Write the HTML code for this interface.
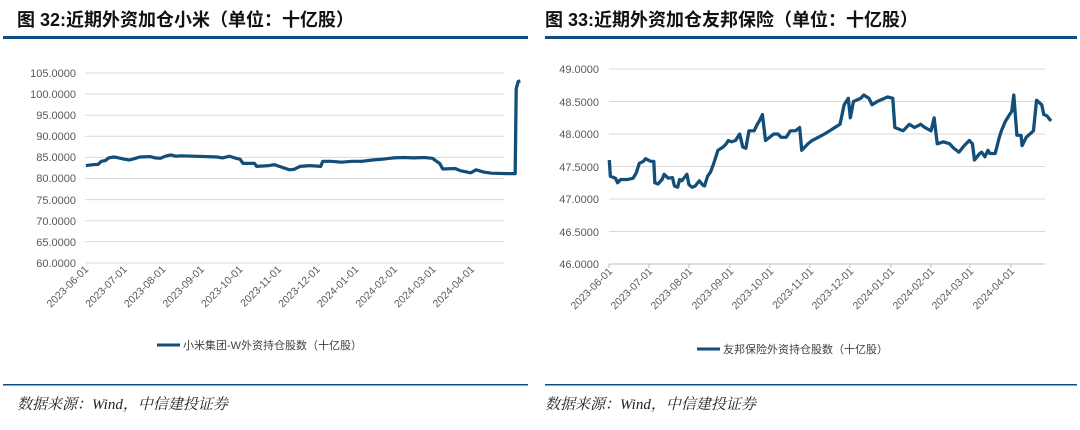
<!DOCTYPE html>
<html><head><meta charset="utf-8"><style>
body{margin:0;background:#fff;width:1080px;height:425px;overflow:hidden;font-family:"Liberation Sans","Noto Sans CJK SC",sans-serif}
</style></head><body>
<svg width="1080" height="425" xmlns="http://www.w3.org/2000/svg" font-family="Liberation Sans, Noto Sans CJK SC, sans-serif">
<text x="17" y="26" font-size="18" font-weight="bold" fill="#111">图 32:近期外资加仓小米（单位：十亿股）</text>
<text x="545" y="26" font-size="18" font-weight="bold" fill="#111">图 33:近期外资加仓友邦保险（单位：十亿股）</text>
<rect x="3" y="36" width="525" height="3" fill="#0f4c81"/>
<rect x="545" y="36" width="532" height="3" fill="#0f4c81"/>
<g stroke="#d9d9d9" stroke-width="1">
<line x1="85" x2="504" y1="73" y2="73"/><line x1="85" x2="504" y1="94.1" y2="94.1"/><line x1="85" x2="504" y1="115.2" y2="115.2"/><line x1="85" x2="504" y1="136.3" y2="136.3"/><line x1="85" x2="504" y1="157.4" y2="157.4"/><line x1="85" x2="504" y1="178.5" y2="178.5"/><line x1="85" x2="504" y1="199.6" y2="199.6"/><line x1="85" x2="504" y1="220.7" y2="220.7"/><line x1="85" x2="504" y1="241.8" y2="241.8"/><line x1="85" x2="504" y1="263" y2="263"/>
<line x1="609" x2="1045" y1="69" y2="69"/><line x1="609" x2="1045" y1="101.5" y2="101.5"/><line x1="609" x2="1045" y1="134" y2="134"/><line x1="609" x2="1045" y1="166.5" y2="166.5"/><line x1="609" x2="1045" y1="199" y2="199"/><line x1="609" x2="1045" y1="231.5" y2="231.5"/><line x1="609" x2="1045" y1="264" y2="264"/>
</g>
<g font-size="11" fill="#595959" text-anchor="end">
<text x="76" y="77">105.0000</text><text x="76" y="98">100.0000</text><text x="76" y="119">95.0000</text><text x="76" y="140">90.0000</text><text x="76" y="161">85.0000</text><text x="76" y="182">80.0000</text><text x="76" y="204">75.0000</text><text x="76" y="225">70.0000</text><text x="76" y="246">65.0000</text><text x="76" y="267">60.0000</text>
<text x="599" y="73">49.0000</text><text x="599" y="106">48.5000</text><text x="599" y="138">48.0000</text><text x="599" y="171">47.5000</text><text x="599" y="203">47.0000</text><text x="599" y="236">46.5000</text><text x="599" y="268">46.0000</text>
</g>
<g stroke="#bfbfbf"><line x1="609" x2="1045" y1="264" y2="264"/></g>
<g font-size="10.5" fill="#595959" text-anchor="end">
<text transform="translate(89,270) rotate(-45)">2023-06-01</text>
<text transform="translate(127.6,270) rotate(-45)">2023-07-01</text>
<text transform="translate(166.2,270) rotate(-45)">2023-08-01</text>
<text transform="translate(204.8,270) rotate(-45)">2023-09-01</text>
<text transform="translate(243.4,270) rotate(-45)">2023-10-01</text>
<text transform="translate(282,270) rotate(-45)">2023-11-01</text>
<text transform="translate(320.6,270) rotate(-45)">2023-12-01</text>
<text transform="translate(359.2,270) rotate(-45)">2024-01-01</text>
<text transform="translate(397.8,270) rotate(-45)">2024-02-01</text>
<text transform="translate(436.4,270) rotate(-45)">2024-03-01</text>
<text transform="translate(475,270) rotate(-45)">2024-04-01</text>
<text transform="translate(613,272) rotate(-45)">2023-06-01</text>
<text transform="translate(653,272) rotate(-45)">2023-07-01</text>
<text transform="translate(693,272) rotate(-45)">2023-08-01</text>
<text transform="translate(734,272) rotate(-45)">2023-09-01</text>
<text transform="translate(774,272) rotate(-45)">2023-10-01</text>
<text transform="translate(814,272) rotate(-45)">2023-11-01</text>
<text transform="translate(854,272) rotate(-45)">2023-12-01</text>
<text transform="translate(895,272) rotate(-45)">2024-01-01</text>
<text transform="translate(935,272) rotate(-45)">2024-02-01</text>
<text transform="translate(974,272) rotate(-45)">2024-03-01</text>
<text transform="translate(1015,272) rotate(-45)">2024-04-01</text>
</g>
<g stroke="#bfbfbf" stroke-width="1">
<line x1="609" x2="609" y1="264" y2="268"/><line x1="649" x2="649" y1="264" y2="268"/><line x1="689" x2="689" y1="264" y2="268"/><line x1="730" x2="730" y1="264" y2="268"/><line x1="770" x2="770" y1="264" y2="268"/><line x1="810" x2="810" y1="264" y2="268"/><line x1="850" x2="850" y1="264" y2="268"/><line x1="891" x2="891" y1="264" y2="268"/><line x1="931" x2="931" y1="264" y2="268"/><line x1="970" x2="970" y1="264" y2="268"/><line x1="1011" x2="1011" y1="264" y2="268"/>
</g>
<g fill="none" stroke="#124e78" stroke-width="3.2" stroke-linejoin="round">
<polyline transform="scale(1.0345,1)" points="83,165.6 90,164.7 95,164.3 98,161.3 102,160.5 105,157.9 110,157 115,157.9 120,159.2 125,160 130,158.7 135,157 145,156.6 150,157.9 155,158.3 160,156.2 165,154.9 170,156.2 175,155.8 200,156.6 210,157 215,157.9 222,156.2 228,158.3 232,159.2 235,163.4 246,163.4 248,166.4 260,165.6 265,164.7 270,166.4 275,168.1 280,169.8 284,169.4 290,166.4 300,165.6 310,166.4 312,161.3 320,161.3 330,162.2 340,161.3 350,161.3 360,160 370,159.2 380,157.9 390,157.5 400,157.9 410,157.5 418,158.3 422,161.3 425,163.4 428,169 440,168.5 445,170.7 455,172.8 458,171.1 460,169.8 467,171.9 475,173.2 490,173.6 498,173.6 499,88.6 501,81.4 503,81"/>
<polyline transform="translate(540,65) scale(1.0345,1) translate(-540,0)" points="607,95 608,111.3 613,113.2 615,117.8 618,114.5 625,114.5 630,113.2 633,108 636,98.3 640,96.3 642,93.7 647,96.3 650,96.3 651,117.8 654,119 658,114.5 660,109.3 664,113.2 668,112.6 670,121 673,122.3 675,114.5 677,115.8 682,109.3 684,119.7 687,122.3 690,121 694,115.8 697,119.7 699,121 702,111.3 705,106.7 708,98.3 712,85.3 717,82 720,78.8 722,75.5 725,76.8 729,75.5 733,69 736,82 739,83.3 742,65.8 747,65.8 750,59.3 752,56 755,49.5 758,75.5 762,72.3 766,69 770,69 773,72.3 778,72.3 782,65.8 787,65.8 791,62.5 793,85.3 799,78.8 803,75.5 809,72.3 815,69 820,65.8 825,62.5 830,59.3 834,39.8 838,33.3 840,52.8 843,36.5 850,33.3 853,30 858,33.3 861,39.8 866,36.5 876,31.9 881,33.3 883,62.5 891,65.8 897,59.3 902,62.5 908,59.3 912,62.5 918,65.8 921,52.8 924,78.8 930,76.8 936,78.8 940,83.3 945,87.2 950,80.7 955,75.5 958,78.8 960,95 965,88.5 967,87.2 970,91.8 973,85.3 975,88.5 980,88.5 984,72.3 986,65.8 990,56 996,46.3 998,30 1001,70.3 1005,70.3 1006,80.7 1010,72.3 1017,65.8 1020,35.2 1025,39.8 1027,49.5 1030,50.8 1034,56"/>
</g>
<line x1="157" x2="180" y1="345" y2="345" stroke="#124e78" stroke-width="3"/>
<text x="183" y="349" font-size="11" fill="#404040">小米集团-W外资持仓股数（十亿股）</text>
<line x1="697" x2="720" y1="349" y2="349" stroke="#124e78" stroke-width="3"/>
<text x="723" y="353" font-size="11" fill="#404040">友邦保险外资持仓股数（十亿股）</text>
<rect x="3" y="384" width="525" height="1.5" fill="#0f4c81"/>
<rect x="545" y="384" width="532" height="1.5" fill="#0f4c81"/>
<text x="17" y="409" font-size="15" font-style="italic" fill="#222" font-family="Liberation Serif, Noto Serif CJK SC, serif">数据来源：Wind，中信建投证券</text>
<text x="545" y="409" font-size="15" font-style="italic" fill="#222" font-family="Liberation Serif, Noto Serif CJK SC, serif">数据来源：Wind，中信建投证券</text>
</svg>
</body></html>
